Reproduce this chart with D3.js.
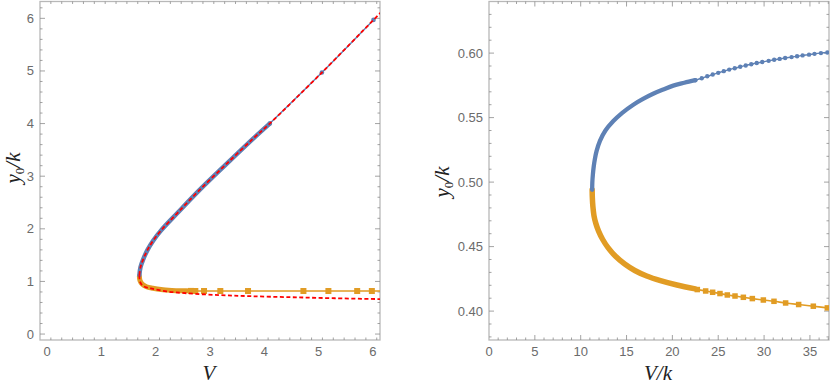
<!DOCTYPE html>
<html>
<head>
<meta charset="utf-8">
<script src="https://cdn.jsdelivr.net/npm/d3@7"></script>
<style>
  body { margin: 0; background: #fff; }
  svg { display: block; }
  .tick-label { font-family: "Liberation Sans", Arial, sans-serif; font-size: 13px; fill: #6b6b6b; }
  .axis-label { font-family: "Liberation Serif", "Times New Roman", serif; font-style: italic; font-size: 21px; fill: #222; }
</style>
</head>
<body>
<svg id="chart" width="830" height="389"></svg>
<script>
// ---- left panel data (V, y0/k) ----
const leftBlueV = [1.70, 1.72, 1.77, 1.85, 1.95, 2.1, 2.4, 2.8, 3.3, 3.8, 4.1];
const leftBlueY = [1.12, 1.27, 1.42, 1.60, 1.77, 1.97, 2.30, 2.73, 3.23, 3.72, 4.0];
const leftBlueDotV = [4.1, 5.06, 6.01];
const leftBlueDotY = [4.0, 4.97, 5.97];
const leftOrangeV = [1.70, 1.71, 1.75, 1.83, 1.95, 2.1, 2.3, 2.5, 2.65];
const leftOrangeY = [1.10, 1.02, 0.95, 0.90, 0.87, 0.845, 0.83, 0.823, 0.82];
const leftSquareV = [2.65, 2.73, 2.89, 3.19, 3.70, 4.72, 5.18, 5.71, 5.98, 6.5];
const leftSquareY = [0.82, 0.818, 0.818, 0.818, 0.818, 0.818, 0.818, 0.818, 0.818, 0.818];
const leftRedUpV = [1.70, 1.72, 1.77, 1.85, 1.95, 2.1, 2.4, 2.8, 3.3, 3.8, 4.1, 5.06, 6.01, 6.2];
const leftRedUpY = [1.12, 1.27, 1.42, 1.60, 1.77, 1.97, 2.30, 2.73, 3.23, 3.72, 4.0, 4.97, 5.97, 6.17];
const leftRedLowV = [1.70, 1.71, 1.76, 1.85, 1.95, 2.2, 2.57, 3.18, 3.73, 4.5, 5.3, 6.2];
const leftRedLowY = [1.12, 1.0, 0.92, 0.88, 0.86, 0.81, 0.775, 0.74, 0.72, 0.70, 0.68, 0.663];

// ---- right panel data (V/k, y0/k) ----
const rightBlueV = [11.25, 11.27, 11.33, 11.42, 11.55, 11.73, 12.1, 12.7, 13.56, 14.5, 15.74, 16.8, 17.9, 19.0, 20.1, 21.3, 22.5];
const rightBlueY = [0.494, 0.500, 0.506, 0.512, 0.518, 0.524, 0.532, 0.540, 0.5473, 0.5535, 0.5600, 0.5645, 0.5685, 0.5718, 0.5748, 0.5770, 0.5790];
const rightBlueDotV = [22.5, 23.2, 23.8, 24.4, 25.0, 25.6, 26.2, 26.8, 27.4, 28.0, 28.6, 29.2, 29.8, 30.5, 31.1, 31.7, 32.3, 33.0, 33.6, 34.2, 34.9, 35.5, 36.2, 36.9];
const rightBlueDotY = [0.5790, 0.5805, 0.5820, 0.5834, 0.5847, 0.5860, 0.5872, 0.5883, 0.5894, 0.5904, 0.5914, 0.5923, 0.5931, 0.5940, 0.5948, 0.5955, 0.5962, 0.5969, 0.5976, 0.5982, 0.5988, 0.5994, 0.6000, 0.6005];
const rightOrangeV = [11.25, 11.27, 11.33, 11.45, 11.65, 11.95, 12.4, 13.0, 13.8, 14.8, 15.9, 17.2, 18.7, 20.5, 22.5];
const rightOrangeY = [0.494, 0.488, 0.481, 0.474, 0.468, 0.462, 0.4555, 0.449, 0.4425, 0.4365, 0.4315, 0.4272, 0.4236, 0.4202, 0.4172];
const rightSquareV = [22.72, 23.63, 24.39, 25.19, 25.99, 26.83, 27.74, 28.72, 29.92, 31.08, 32.35, 33.77, 35.37, 36.9];
const rightSquareY = [0.4167, 0.4156, 0.4146, 0.4136, 0.4125, 0.4117, 0.4107, 0.4097, 0.4086, 0.4076, 0.4063, 0.4051, 0.4038, 0.4025];

// ---- ticks ----
const leftXTicks = [0, 1, 2, 3, 4, 5, 6];
const leftYTicks = [0, 1, 2, 3, 4, 5, 6];
const rightXTicks = [0, 5, 10, 15, 20, 25, 30, 35];
const rightYTicks = [0.40, 0.45, 0.50, 0.55, 0.60];

const blue = "#5e81b5", orange = "#e19c24", red = "#ff0000";
const zip = (a, b) => a.map((v, i) => [v, b[i]]);

const svg = d3.select("#chart");

function panel(opt) {
    const g = svg.append("g");
    const x = d3.scaleLinear().domain(opt.xDomain).range([opt.left, opt.right]);
    const y = d3.scaleLinear().domain(opt.yDomain).range([opt.bottom, opt.top]);

    const clipId = "clip" + opt.id;
    svg.append("clipPath").attr("id", clipId)
        .append("rect")
        .attr("x", opt.left).attr("y", opt.top)
        .attr("width", opt.right - opt.left).attr("height", opt.bottom - opt.top);

    // frame
    g.append("rect")
        .attr("x", opt.left).attr("y", opt.top)
        .attr("width", opt.right - opt.left).attr("height", opt.bottom - opt.top)
        .attr("fill", "none").attr("stroke", "#b8b8b8").attr("stroke-width", 1.3);

    // ticks on all four sides, pointing in
    const xMinor = d3.range(opt.xDomain[0] - 1, opt.xDomain[1] + 1, opt.xMinorStep)
        .map(v => +v.toFixed(6)).filter(v => v > opt.xDomain[0] && v < opt.xDomain[1]);
    const yMinor = d3.range(Math.floor(opt.yDomain[0] / opt.yMinorStep) * opt.yMinorStep, opt.yDomain[1], opt.yMinorStep)
        .map(v => +v.toFixed(6)).filter(v => v > opt.yDomain[0] && v < opt.yDomain[1]);

    const isMajor = (v, arr) => arr.some(t => Math.abs(t - v) < 1e-6);
    const tg = g.append("g").attr("stroke", "#8c8c8c").attr("stroke-width", 0.8);
    xMinor.forEach(v => {
        const len = isMajor(v, opt.xTicks) ? 5 : 2.5;
        const px = x(v);
        tg.append("line").attr("x1", px).attr("x2", px).attr("y1", opt.bottom).attr("y2", opt.bottom - len);
        tg.append("line").attr("x1", px).attr("x2", px).attr("y1", opt.top).attr("y2", opt.top + len);
    });
    yMinor.forEach(v => {
        const len = isMajor(v, opt.yTicks) ? 5 : 2.5;
        const py = y(v);
        tg.append("line").attr("y1", py).attr("y2", py).attr("x1", opt.left).attr("x2", opt.left + len);
        tg.append("line").attr("y1", py).attr("y2", py).attr("x1", opt.right).attr("x2", opt.right - len);
    });

    g.selectAll(".xl").data(opt.xTicks).enter().append("text")
        .attr("class", "tick-label")
        .attr("x", d => x(d)).attr("y", opt.bottom + 16)
        .attr("text-anchor", "middle")
        .text(d => opt.xFormat(d));
    g.selectAll(".yl").data(opt.yTicks).enter().append("text")
        .attr("class", "tick-label")
        .attr("x", opt.left - 6).attr("y", d => y(d) + 4.5)
        .attr("text-anchor", "end")
        .text(d => opt.yFormat(d));

    const plot = g.append("g").attr("clip-path", "url(#" + clipId + ")");
    return { g, x, y, plot };
}

function curve(p, pts, color, width, dash) {
    const line = d3.line().x(d => p.x(d[0])).y(d => p.y(d[1])).curve(d3.curveCatmullRom);
    p.plot.append("path").datum(pts)
        .attr("d", line)
        .attr("fill", "none")
        .attr("stroke", color)
        .attr("stroke-width", width)
        .attr("stroke-linecap", dash ? "butt" : "round")
        .attr("stroke-dasharray", dash || null);
}

function dots(p, pts, color, r) {
    p.plot.selectAll(null).data(pts).enter().append("circle")
        .attr("cx", d => p.x(d[0])).attr("cy", d => p.y(d[1]))
        .attr("r", r).attr("fill", color);
}

function squares(p, pts, color, s) {
    p.plot.selectAll(null).data(pts).enter().append("rect")
        .attr("x", d => p.x(d[0]) - s / 2).attr("y", d => p.y(d[1]) - s / 2)
        .attr("width", s).attr("height", s).attr("fill", color);
}

// ---- left panel ----
const L = panel({
    id: "L", left: 40, right: 380, top: 1.5, bottom: 340,
    xDomain: [-0.13, 6.13], yDomain: [-0.113, 6.32],
    xTicks: leftXTicks, yTicks: leftYTicks, xMinorStep: 0.2, yMinorStep: 0.2,
    xFormat: d3.format("d"), yFormat: d3.format("d")
});
curve(L, zip(leftSquareV, leftSquareY), orange, 1.6);
curve(L, zip(leftOrangeV, leftOrangeY), orange, 5);
squares(L, zip(leftSquareV, leftSquareY), orange, 6);
curve(L, zip(leftBlueV, leftBlueY), blue, 4.5);
curve(L, zip(leftBlueDotV, leftBlueDotY), blue, 1.4);
dots(L, zip(leftBlueDotV, leftBlueDotY), blue, 2.3);
curve(L, zip(leftRedUpV, leftRedUpY), red, 1.8, "4,2.5");
curve(L, zip(leftRedLowV, leftRedLowY), red, 1.8, "4,2.5");

L.g.append("text").attr("class", "axis-label")
    .attr("x", 209).attr("y", 380).attr("text-anchor", "middle").text("V");
L.g.append("text").attr("class", "axis-label")
    .attr("transform", "translate(20,168) rotate(-90)")
    .attr("text-anchor", "middle")
    .html('y<tspan font-style="normal" font-size="13" dy="4">0</tspan><tspan dy="-4">/k</tspan>');

// ---- right panel ----
const R = panel({
    id: "R", left: 489, right: 829, top: 1.5, bottom: 340,
    xDomain: [0, 37.08], yDomain: [0.3776, 0.640],
    xTicks: rightXTicks, yTicks: rightYTicks, xMinorStep: 1, yMinorStep: 0.01,
    xFormat: d3.format("d"), yFormat: d3.format(".2f")
});
curve(R, zip(rightSquareV, rightSquareY), orange, 1.6);
curve(R, zip(rightOrangeV, rightOrangeY), orange, 5.5);
squares(R, zip(rightSquareV, rightSquareY), orange, 5.5);
curve(R, zip(rightBlueV, rightBlueY), blue, 4.3);
curve(R, zip(rightBlueDotV, rightBlueDotY), blue, 1.4);
dots(R, zip(rightBlueDotV, rightBlueDotY), blue, 2.2);

R.g.append("text").attr("class", "axis-label")
    .attr("x", 658).attr("y", 380).attr("text-anchor", "middle").text("V/k");
R.g.append("text").attr("class", "axis-label")
    .attr("transform", "translate(449,182) rotate(-90)")
    .attr("text-anchor", "middle")
    .html('y<tspan font-style="normal" font-size="13" dy="4">0</tspan><tspan dy="-4">/k</tspan>');
</script>
</body>
</html>
